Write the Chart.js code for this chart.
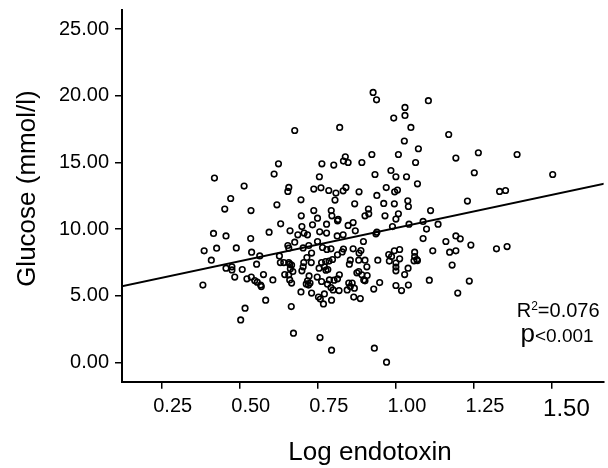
<!DOCTYPE html>
<html>
<head>
<meta charset="utf-8">
<script src="https://cdn.jsdelivr.net/npm/chart.js@4"></script>
<style>
  body { margin: 0; background: #fff; }
  #wrap { width: 608px; height: 468px; }
</style>
</head>
<body>
<div id="wrap"><canvas id="myChart"></canvas></div>
<script>
// log endotoxin (x) and glucose mmol/l (y)
const endotoxin = [
    0.624, 0.610, 0.419, 0.514, 0.657, 0.654, 0.471, 0.619, 0.452, 0.536, 0.631,
    0.927, 0.938, 0.676, 0.820, 0.923, 0.838, 0.832, 0.847, 0.763, 0.801, 0.891, 0.933, 0.755, 0.737, 0.760, 0.785, 0.808, 0.831, 0.840, 0.882, 0.969, 0.939, 0.696, 0.805, 0.868, 0.961, 0.697, 0.737, 0.793, 0.795, 0.749, 0.815, 0.912, 0.913, 0.901, 0.965,
    1.104, 1.029, 1.029, 0.993, 1.048, 1.169, 1.027, 1.072, 1.008, 1.192, 1.264, 1.063, 0.984, 1.000, 1.034, 1.251, 1.005, 0.996, 1.069, 0.995, 1.038, 1.040, 1.111, 1.229, 1.008, 1.000, 1.087, 1.135, 1.042,
    1.388, 1.502, 1.332, 1.351, 1.322, 1.356,
    0.416, 0.456, 0.535, 0.594, 0.661, 0.386, 0.426, 0.489, 0.538, 0.564, 0.654, 0.409, 0.456, 0.475, 0.475, 0.508, 0.554, 0.627, 0.630, 0.641, 0.660, 0.382, 0.484, 0.523, 0.537, 0.548, 0.556, 0.567, 0.569, 0.576, 0.606, 0.644, 0.660, 0.666, 0.583, 0.517, 0.503, 0.665, 0.672,
    0.699, 0.733, 0.778, 0.813, 0.847, 0.863, 0.686, 0.706, 0.717, 0.756, 0.778, 0.812, 0.831, 0.870, 0.939, 0.936, 0.676, 0.749, 0.896, 0.721, 0.703, 0.765, 0.779, 0.792, 0.657, 0.730, 0.832, 0.828, 0.813, 0.863, 0.888, 0.882, 0.715, 0.657, 0.666, 0.662, 0.670, 0.705, 0.703, 0.699, 0.729, 0.762, 0.775, 0.786, 0.797, 0.854, 0.851, 0.881, 0.901, 0.942, 0.754, 0.771, 0.776, 0.782, 0.907, 0.881, 0.875, 0.819, 0.813, 0.787, 0.802, 0.722, 0.748, 0.657, 0.891, 0.908, 0.897, 0.901, 0.762, 0.717, 0.713, 0.720, 0.725, 0.948, 0.849, 0.860, 0.854, 0.792, 0.799, 0.781, 0.818, 0.867, 0.844, 0.696, 0.730, 0.771, 0.929, 0.865, 0.886, 0.752, 0.758, 0.794, 0.768, 0.757, 0.794, 0.931, 0.970,
    0.989, 1.098, 1.087, 1.160, 1.192, 1.206, 1.240, 0.995, 1.012, 0.977, 0.986, 0.979, 1.012, 1.000, 1.000, 1.000, 1.060, 1.060, 1.067, 1.058, 1.069, 1.118, 1.172, 1.192, 1.180, 1.039, 1.028, 1.107, 1.235, 1.000, 1.018, 1.040, 1.198
];
const glucose = [
    14.90, 14.13, 13.83, 13.23, 13.13, 12.83, 12.30, 11.83, 11.51, 11.40, 10.40,
    20.25, 19.70, 17.40, 17.63, 15.60, 15.43, 15.11, 15.00, 14.90, 14.81, 15.00, 14.10, 13.93, 13.01, 13.10, 12.90, 12.71, 12.88, 13.13, 12.80, 13.12, 12.53, 12.20, 12.18, 11.90, 11.93, 11.00, 11.40, 11.40, 11.00, 10.83, 10.73, 11.51, 11.15, 11.00, 11.00,
    19.63, 19.13, 18.53, 18.33, 17.63, 17.10, 16.61, 16.03, 15.60, 15.33, 15.73, 15.00, 14.40, 13.93, 13.93, 14.23, 12.93, 12.80, 13.40, 11.90, 12.13, 11.70, 11.40, 12.11, 11.15, 10.76, 10.58, 10.38, 10.38,
    15.60, 14.10, 12.83, 12.90, 8.53, 8.70,
    9.68, 9.50, 9.30, 9.78, 9.88, 8.38, 8.58, 8.60, 8.28, 8.00, 8.78, 7.68, 7.08, 7.18, 6.95, 6.98, 7.38, 8.00, 7.50, 7.50, 7.40, 5.81, 6.41, 6.28, 6.41, 6.15, 6.03, 5.81, 5.70, 6.60, 6.20, 6.60, 6.20, 5.96, 4.68, 4.08, 3.20, 4.20, 2.21,
    10.20, 10.33, 10.38, 10.63, 10.28, 10.50, 9.58, 9.71, 9.58, 9.80, 9.71, 9.50, 9.58, 9.88, 9.78, 9.65, 9.03, 9.08, 9.08, 8.78, 8.60, 8.63, 8.48, 8.53, 8.58, 8.21, 8.51, 8.30, 8.08, 8.53, 8.40, 8.21, 7.88, 7.50, 7.31, 7.03, 6.83, 7.50, 7.18, 6.88, 7.50, 7.50, 7.58, 7.61, 7.73, 7.68, 7.38, 7.68, 7.68, 7.68, 7.08, 7.18, 6.93, 6.98, 7.18, 6.83, 6.73, 6.58, 6.28, 6.20, 6.18, 6.50, 6.41, 6.58, 6.58, 6.53, 6.20, 6.13, 6.08, 6.13, 5.90, 5.81, 5.96, 6.00, 5.96, 5.96, 5.70, 5.63, 5.45, 5.88, 5.40, 5.58, 5.45, 5.30, 5.21, 5.15, 5.51, 4.91, 4.80, 4.91, 4.76, 4.68, 4.40, 1.88, 0.93, 1.08, 0.03,
    10.20, 10.01, 9.30, 9.08, 9.50, 9.28, 8.81, 8.38, 8.48, 8.10, 7.95, 7.61, 7.78, 7.46, 7.16, 6.88, 8.28, 7.95, 7.73, 7.63, 7.65, 8.38, 8.28, 8.38, 7.31, 7.08, 6.60, 6.18, 6.11, 5.78, 5.40, 5.81, 5.21
];

// fitted line ends
const fitX = [0.12, 1.67];
const fitY = [5.71, 13.43];

const xTicks = [0.25, 0.50, 0.75, 1.00, 1.25, 1.50];
const yTicks = [0, 5, 10, 15, 20, 25];

const statR2 = '0.076';
const statP = '0.001';

const FONT = '"Liberation Sans", Arial, Helvetica, sans-serif';

const points = endotoxin.map((x, i) => ({ x: x, y: glucose[i] }));
const fitLine = fitX.map((x, i) => ({ x: x, y: fitY[i] }));

// R² and p text in the lower right corner
const statsText = {
    id: 'statsText',
    afterDraw(chart) {
        const ctx = chart.ctx;
        const area = chart.chartArea;
        const yScale = chart.scales.y;
        ctx.save();
        ctx.fillStyle = '#000';
        ctx.textAlign = 'right';
        ctx.textBaseline = 'alphabetic';

        let right = area.right - 4;
        let base = yScale.getPixelForValue(3.4);
        ctx.font = '20px ' + FONT;
        const tail = '=' + statR2;
        ctx.fillText(tail, right, base);
        right -= ctx.measureText(tail).width;
        ctx.font = '12px ' + FONT;
        ctx.fillText('2', right, base - 7);
        right -= ctx.measureText('2').width;
        ctx.font = '20px ' + FONT;
        ctx.fillText('R', right, base);

        right = area.right - 10;
        base = yScale.getPixelForValue(1.58);
        ctx.font = '19px ' + FONT;
        const pTail = '<' + statP;
        ctx.fillText(pTail, right, base);
        right -= ctx.measureText(pTail).width;
        ctx.font = '26px ' + FONT;
        ctx.fillText('p', right, base);
        ctx.restore();
    }
};

const config = {
    type: 'scatter',
    data: {
        datasets: [{
            label: 'Glucose',
            data: points,
            pointStyle: 'circle',
            pointRadius: 2.8,
            pointHoverRadius: 2.8,
            borderWidth: 1.6,
            borderColor: '#000',
            backgroundColor: 'rgba(0,0,0,0)'
        }, {
            type: 'line',
            label: 'Fit',
            data: fitLine,
            borderColor: '#000',
            borderWidth: 2,
            pointRadius: 0,
            fill: false
        }]
    },
    options: {
        responsive: true,
        maintainAspectRatio: false,
        animation: false,
        layout: { padding: { top: 10, right: 0, bottom: 0, left: 0 } },
        plugins: {
            legend: { display: false },
            tooltip: { enabled: false }
        },
        scales: {
            x: {
                type: 'linear',
                min: 0.123,
                max: 1.665,
                afterBuildTicks: (scale) => { scale.ticks = xTicks.map(v => ({ value: v })); },
                afterFit: (scale) => {
                    scale.height = 86.3;
                    scale.paddingLeft = 0;
                    scale.paddingRight = 0;
                },
                border: { display: true, color: '#000', width: 2 },
                grid: { display: true, drawOnChartArea: false, drawTicks: true, tickLength: 7, color: '#000', lineWidth: 1.5 },
                ticks: {
                    autoSkip: false,
                    maxRotation: 0,
                    padding: 6,
                    labelOffset: 11,
                    color: '#000',
                    font: (ctx) => ({ family: FONT, size: ctx.tick && ctx.tick.value === 1.5 ? 24 : 20 }),
                    callback: (v) => (v === 1.5 ? ' ' : '') + v.toFixed(2)
                },
                title: {
                    display: true,
                    text: '  Log endotoxin',
                    color: '#000',
                    font: { family: FONT, size: 26 },
                    padding: { top: 0, bottom: 0 }
                }
            },
            y: {
                type: 'linear',
                min: -1.43,
                max: 26.43,
                afterBuildTicks: (scale) => { scale.ticks = yTicks.map(v => ({ value: v })); },
                afterFit: (scale) => {
                    scale.width = 122;
                    scale.paddingTop = 0;
                    scale.paddingBottom = 0;
                },
                border: { display: true, color: '#000', width: 2 },
                grid: { display: true, drawOnChartArea: false, drawTicks: true, tickLength: 7, color: '#000', lineWidth: 1.5 },
                ticks: {
                    autoSkip: false,
                    padding: 6,
                    color: '#000',
                    font: { family: FONT, size: 20 },
                    callback: (v) => v.toFixed(2)
                },
                title: {
                    display: true,
                    text: '  Glucose (mmol/l)',
                    color: '#000',
                    font: { family: FONT, size: 26 },
                    padding: { top: 12, bottom: 0 }
                }
            }
        }
    },
    plugins: [statsText]
};

const myChart = new Chart(document.getElementById('myChart'), config);
</script>
</body>
</html>
